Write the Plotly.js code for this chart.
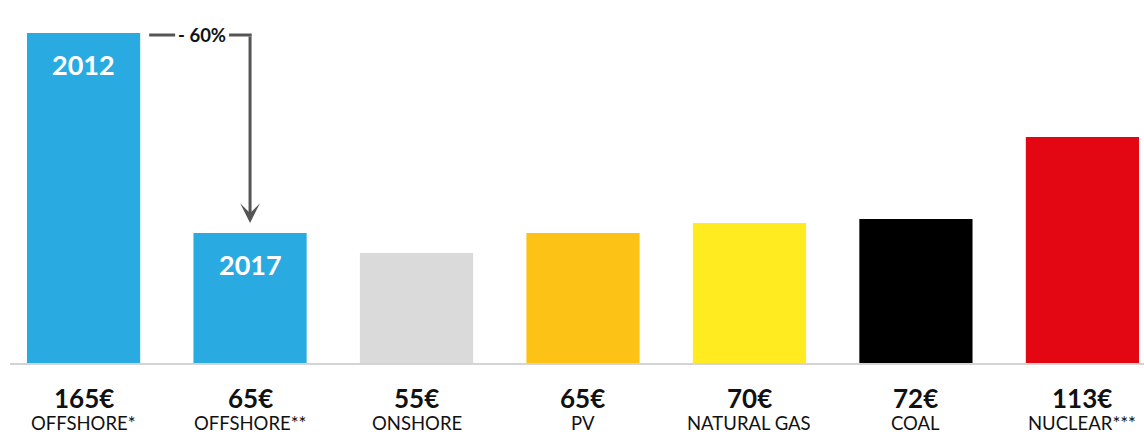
<!DOCTYPE html>
<html>
<head>
<meta charset="utf-8">
<script src="https://cdn.plot.ly/plotly-3.0.1.min.js"></script>
<style>html,body{margin:0;padding:0;background:#fff;}#chart{width:1144px;height:435px;}</style>
</head>
<body>
<div id="chart"></div>
<script>
const categories = ["OFFSHORE*", "OFFSHORE**", "ONSHORE", "PV", "NATURAL GAS", "COAL", "NUCLEAR***"];
const prices = [165, 65, 55, 65, 70, 72, 113];
const priceLabels = ["165€", "65€", "55€", "65€", "70€", "72€", "113€"];
const barColors = ["#29abe2", "#29abe2", "#dadadb", "#fcc316", "#ffeb1f", "#000000", "#e30613"];
const yearLabels = ["2012", "2017"];
const changeLabel = "- 60%";

const xs = categories.map((c, i) => i);
const FONT = "Lato, 'Open Sans', sans-serif";

const annotations = [];
categories.forEach((c, i) => {
  annotations.push({x: i, y: 0, xref: 'x', yref: 'y', text: '<b>' + priceLabels[i] + '</b>', showarrow: false,
    yshift: -34.5, font: {family: FONT, size: 26, color: '#111'}, xanchor: 'center', yanchor: 'middle',
    borderpad: 0});
  annotations.push({x: i, y: 0, xref: 'x', yref: 'y', text: c, showarrow: false,
    yshift: -72, font: {family: FONT, size: 18.5, color: '#111'}, xanchor: 'center', yanchor: 'bottom',
    borderpad: 0});
});
yearLabels.forEach((t, i) => {
  annotations.push({x: i, y: prices[i], xref: 'x', yref: 'y', text: '<b>' + t + '</b>', showarrow: false,
    yshift: -31, font: {family: FONT, size: 27, color: '#ffffff'}, xanchor: 'center', yanchor: 'middle'});
});
const arrowY = prices[0] - 1;
annotations.push({x: 0.71, y: arrowY, xref: 'x', yref: 'y', text: '<b>' + changeLabel + '</b>', showarrow: false,
  font: {family: FONT, size: 18.5, color: '#111'}, xanchor: 'center', yanchor: 'middle'});
annotations.push({x: 1, y: prices[1] + 5, xref: 'x', yref: 'y', ax: 1, ay: arrowY, axref: 'x', ayref: 'y',
  text: '', showarrow: true, arrowhead: 3, arrowsize: 1.1, arrowwidth: 3, arrowcolor: '#555555', standoff: 0});

const shapes = [
  {type: 'line', xref: 'x', yref: 'y', x0: 0.394, x1: 0.55, y0: arrowY, y1: arrowY, line: {color: '#555555', width: 3}},
  {type: 'line', xref: 'x', yref: 'y', x0: 0.874, x1: 1.01, y0: arrowY, y1: arrowY, line: {color: '#555555', width: 3}}
];

Plotly.newPlot('chart', [{
  type: 'bar', x: xs, y: prices, width: 0.68,
  marker: {color: barColors, line: {width: 0}},
  hoverinfo: 'skip'
}], {
  width: 1144, height: 435,
  margin: {l: 10, r: 0, t: 0, b: 72},
  paper_bgcolor: '#ffffff', plot_bgcolor: '#ffffff',
  showlegend: false,
  xaxis: {range: [-0.442, 6.37], showticklabels: false, showgrid: false, zeroline: false,
    showline: true, linecolor: '#d4d4d4', linewidth: 2, ticks: ''},
  yaxis: {range: [0, 181.5], visible: false, showgrid: false, zeroline: false},
  annotations: annotations,
  shapes: shapes
}, {displayModeBar: false, staticPlot: true});
</script>
</body>
</html>
